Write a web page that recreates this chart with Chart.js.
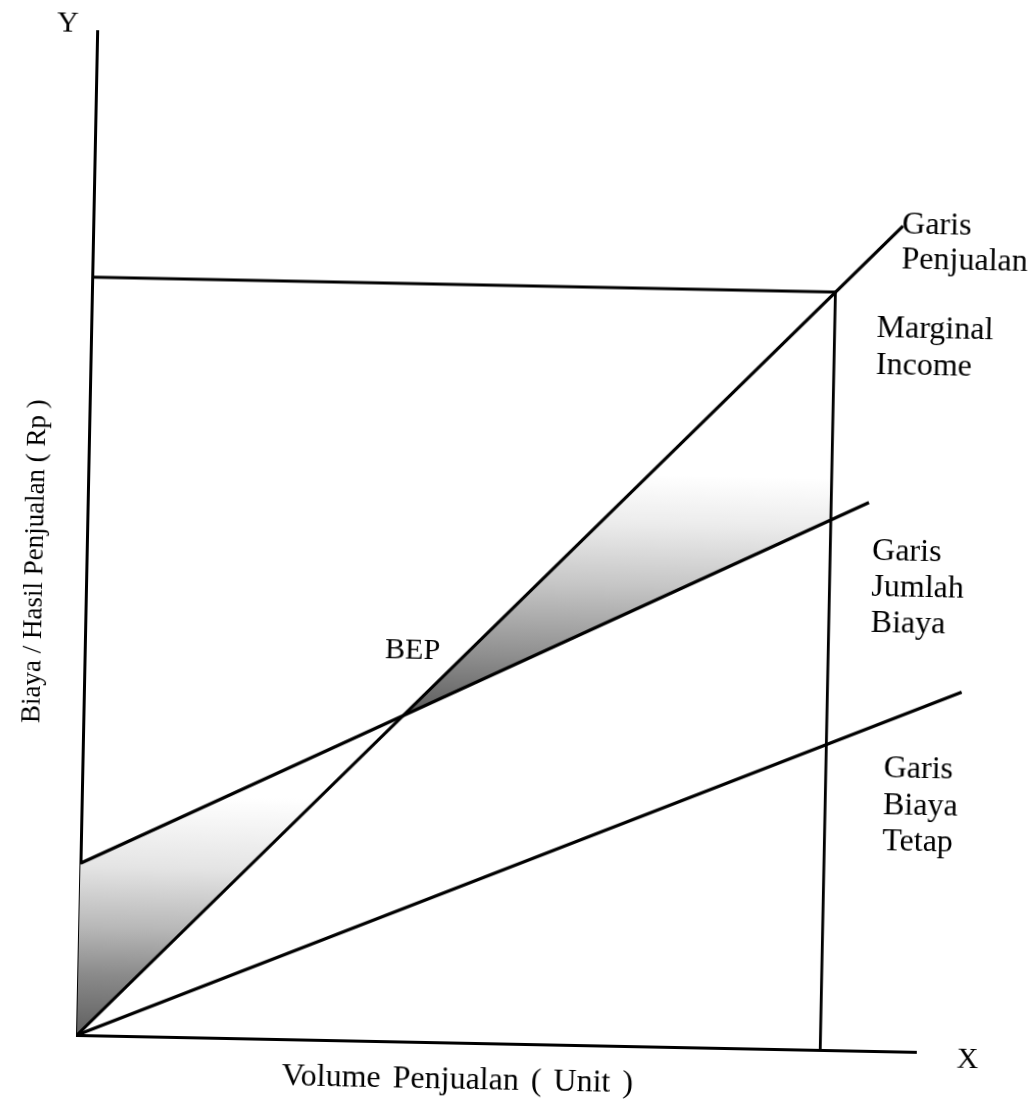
<!DOCTYPE html>
<html>
<head>
<meta charset="utf-8">
<title>Grafik Break Even Point</title>
<script src="https://cdn.jsdelivr.net/npm/chart.js@4.4.1/dist/chart.umd.min.js"></script>
<style>
  html, body { margin: 0; padding: 0; background: #fff; }
  #wrap { position: relative; width: 1033px; height: 1110px; overflow: hidden; background: #fff; }
  /* the scanned original sits about 1 degree clockwise */
  #bepChart { display: block; transform: rotate(1.15deg); transform-origin: 77px 1035px; }
</style>
</head>
<body>
<div id="wrap"><canvas id="bepChart" width="1033" height="1110"></canvas></div>
<script>
// x = volume penjualan (unit), y = biaya / hasil penjualan (Rp), both on a 0-100 scale
const salesLine = [{x: 0, y: 0}, {x: 96.5, y: 82.2}];
const totalCostLine = [{x: 0, y: 17.1}, {x: 93.1, y: 54.6}];
const fixedCostLine = [{x: 0, y: 0}, {x: 104.6, y: 35.9}];
const bepPoint = {x: 38, y: 32.4};
const actualVolume = 88.6;
const actualSales = 75.5;
const actualCost = 52.8;

const salesLevel = [{x: 0, y: actualSales}, {x: actualVolume, y: actualSales}];
const volumeLevel = [{x: actualVolume, y: 0}, {x: actualVolume, y: actualSales}];
const lossArea = [{x: 0, y: 0}, totalCostLine[0], bepPoint, {x: 0, y: 0}];
const profitArea = [bepPoint, {x: actualVolume, y: actualSales}, {x: actualVolume, y: actualCost}, bepPoint];

const labelTexts = {
  yAxis: "Y",
  xAxis: "X",
  yTitle: "Biaya / Hasil Penjualan ( Rp )",
  xTitle: "Volume Penjualan ( Unit )",
  bep: "BEP",
  sales: ["Garis", "Penjualan"],
  margin: ["Marginal", "Income"],
  totalCost: ["Garis", "Jumlah", "Biaya"],
  fixedCost: ["Garis", "Biaya", "Tetap"]
};

function lossShade(context) {
  const {ctx, chartArea, scales} = context.chart;
  if (!chartArea) return "rgba(0,0,0,0)";
  const bottom = scales.y.getPixelForValue(0);
  const top = scales.y.getPixelForValue(24);
  const g = ctx.createLinearGradient(0, bottom, 0, top);
  g.addColorStop(0, "#5f5f5f");
  g.addColorStop(0.25, "#8a8a8a");
  g.addColorStop(0.45, "#b8b8b8");
  g.addColorStop(0.7, "#e4e4e4");
  g.addColorStop(1, "#ffffff");
  return g;
}

function profitShade(context) {
  const {ctx, chartArea, scales} = context.chart;
  if (!chartArea) return "rgba(0,0,0,0)";
  const bottom = scales.y.getPixelForValue(bepPoint.y);
  const top = scales.y.getPixelForValue(57);
  const g = ctx.createLinearGradient(0, bottom, 0, top);
  g.addColorStop(0, "#5a5a5a");
  g.addColorStop(0.25, "#8e8e8e");
  g.addColorStop(0.55, "#c6c6c6");
  g.addColorStop(0.8, "#ececec");
  g.addColorStop(1, "#ffffff");
  return g;
}

const line = (data, extra) => Object.assign({
  data: data,
  showLine: true,
  borderColor: "#000",
  borderWidth: 3.2,
  pointRadius: 0,
  fill: false,
  clip: false,
  order: 1
}, extra);

const serif = '"Liberation Serif", "Times New Roman", serif';

const labelPlugin = {
  id: "bepLabels",
  afterDatasetsDraw(chart) {
    const {ctx, scales: {x, y}} = chart;
    const put = (text, vx, vy, size) => {
      ctx.font = size + "px " + serif;
      ctx.fillText(text, x.getPixelForValue(vx), y.getPixelForValue(vy));
    };
    const stack = (lines, vx, vy, step, size) => {
      lines.forEach((t, i) => put(t, vx, vy - i * step, size));
    };
    ctx.save();
    ctx.fillStyle = "#000";
    ctx.textAlign = "left";
    ctx.textBaseline = "alphabetic";

    put(labelTexts.yAxis, -4.8, 99.9, 30);
    put(labelTexts.xAxis, 104.9, -1.5, 30);
    put(labelTexts.bep, 35.8, 38.1, 30);
    stack(labelTexts.sales, 96.4, 81.5, 3.5, 32);
    stack(labelTexts.margin, 93.6, 71.1, 3.7, 32);
    stack(labelTexts.totalCost, 93.6, 48.9, 3.6, 32);
    stack(labelTexts.fixedCost, 95.5, 27.3, 3.65, 32);

    ctx.save();
    ctx.wordSpacing = "4px";
    put(labelTexts.xTitle, 24.5, -4.6, 32);
    ctx.restore();

    // rotated y-axis title
    ctx.save();
    ctx.translate(x.getPixelForValue(-5.2), y.getPixelForValue(47.1));
    ctx.rotate(-Math.PI / 2);
    ctx.textAlign = "center";
    ctx.font = "27px " + serif;
    ctx.fillText(labelTexts.yTitle, 0, 0);
    ctx.restore();

    ctx.restore();
  }
};

new Chart(document.getElementById("bepChart").getContext("2d"), {
  type: "scatter",
  data: {
    datasets: [
      line(lossArea, {borderWidth: 0, fill: "shape", backgroundColor: lossShade, order: 5}),
      line(profitArea, {borderWidth: 0, fill: "shape", backgroundColor: profitShade, order: 5}),
      line(salesLevel, {borderWidth: 2.8}),
      line(volumeLevel, {borderWidth: 2.8}),
      line(fixedCostLine),
      line(totalCostLine),
      line(salesLine)
    ]
  },
  options: {
    responsive: false,
    animation: false,
    layout: {padding: {left: 77, top: 31, right: 117, bottom: 75}},
    plugins: {
      legend: {display: false},
      tooltip: {enabled: false}
    },
    scales: {
      x: {
        type: "linear",
        min: 0,
        max: 100,
        grid: {display: false, drawTicks: false},
        ticks: {display: false},
        border: {display: true, color: "#000", width: 3}
      },
      y: {
        type: "linear",
        min: 0,
        max: 100,
        grid: {display: false, drawTicks: false},
        ticks: {display: false},
        border: {display: true, color: "#000", width: 3}
      }
    }
  },
  plugins: [labelPlugin]
});
</script>
</body>
</html>
